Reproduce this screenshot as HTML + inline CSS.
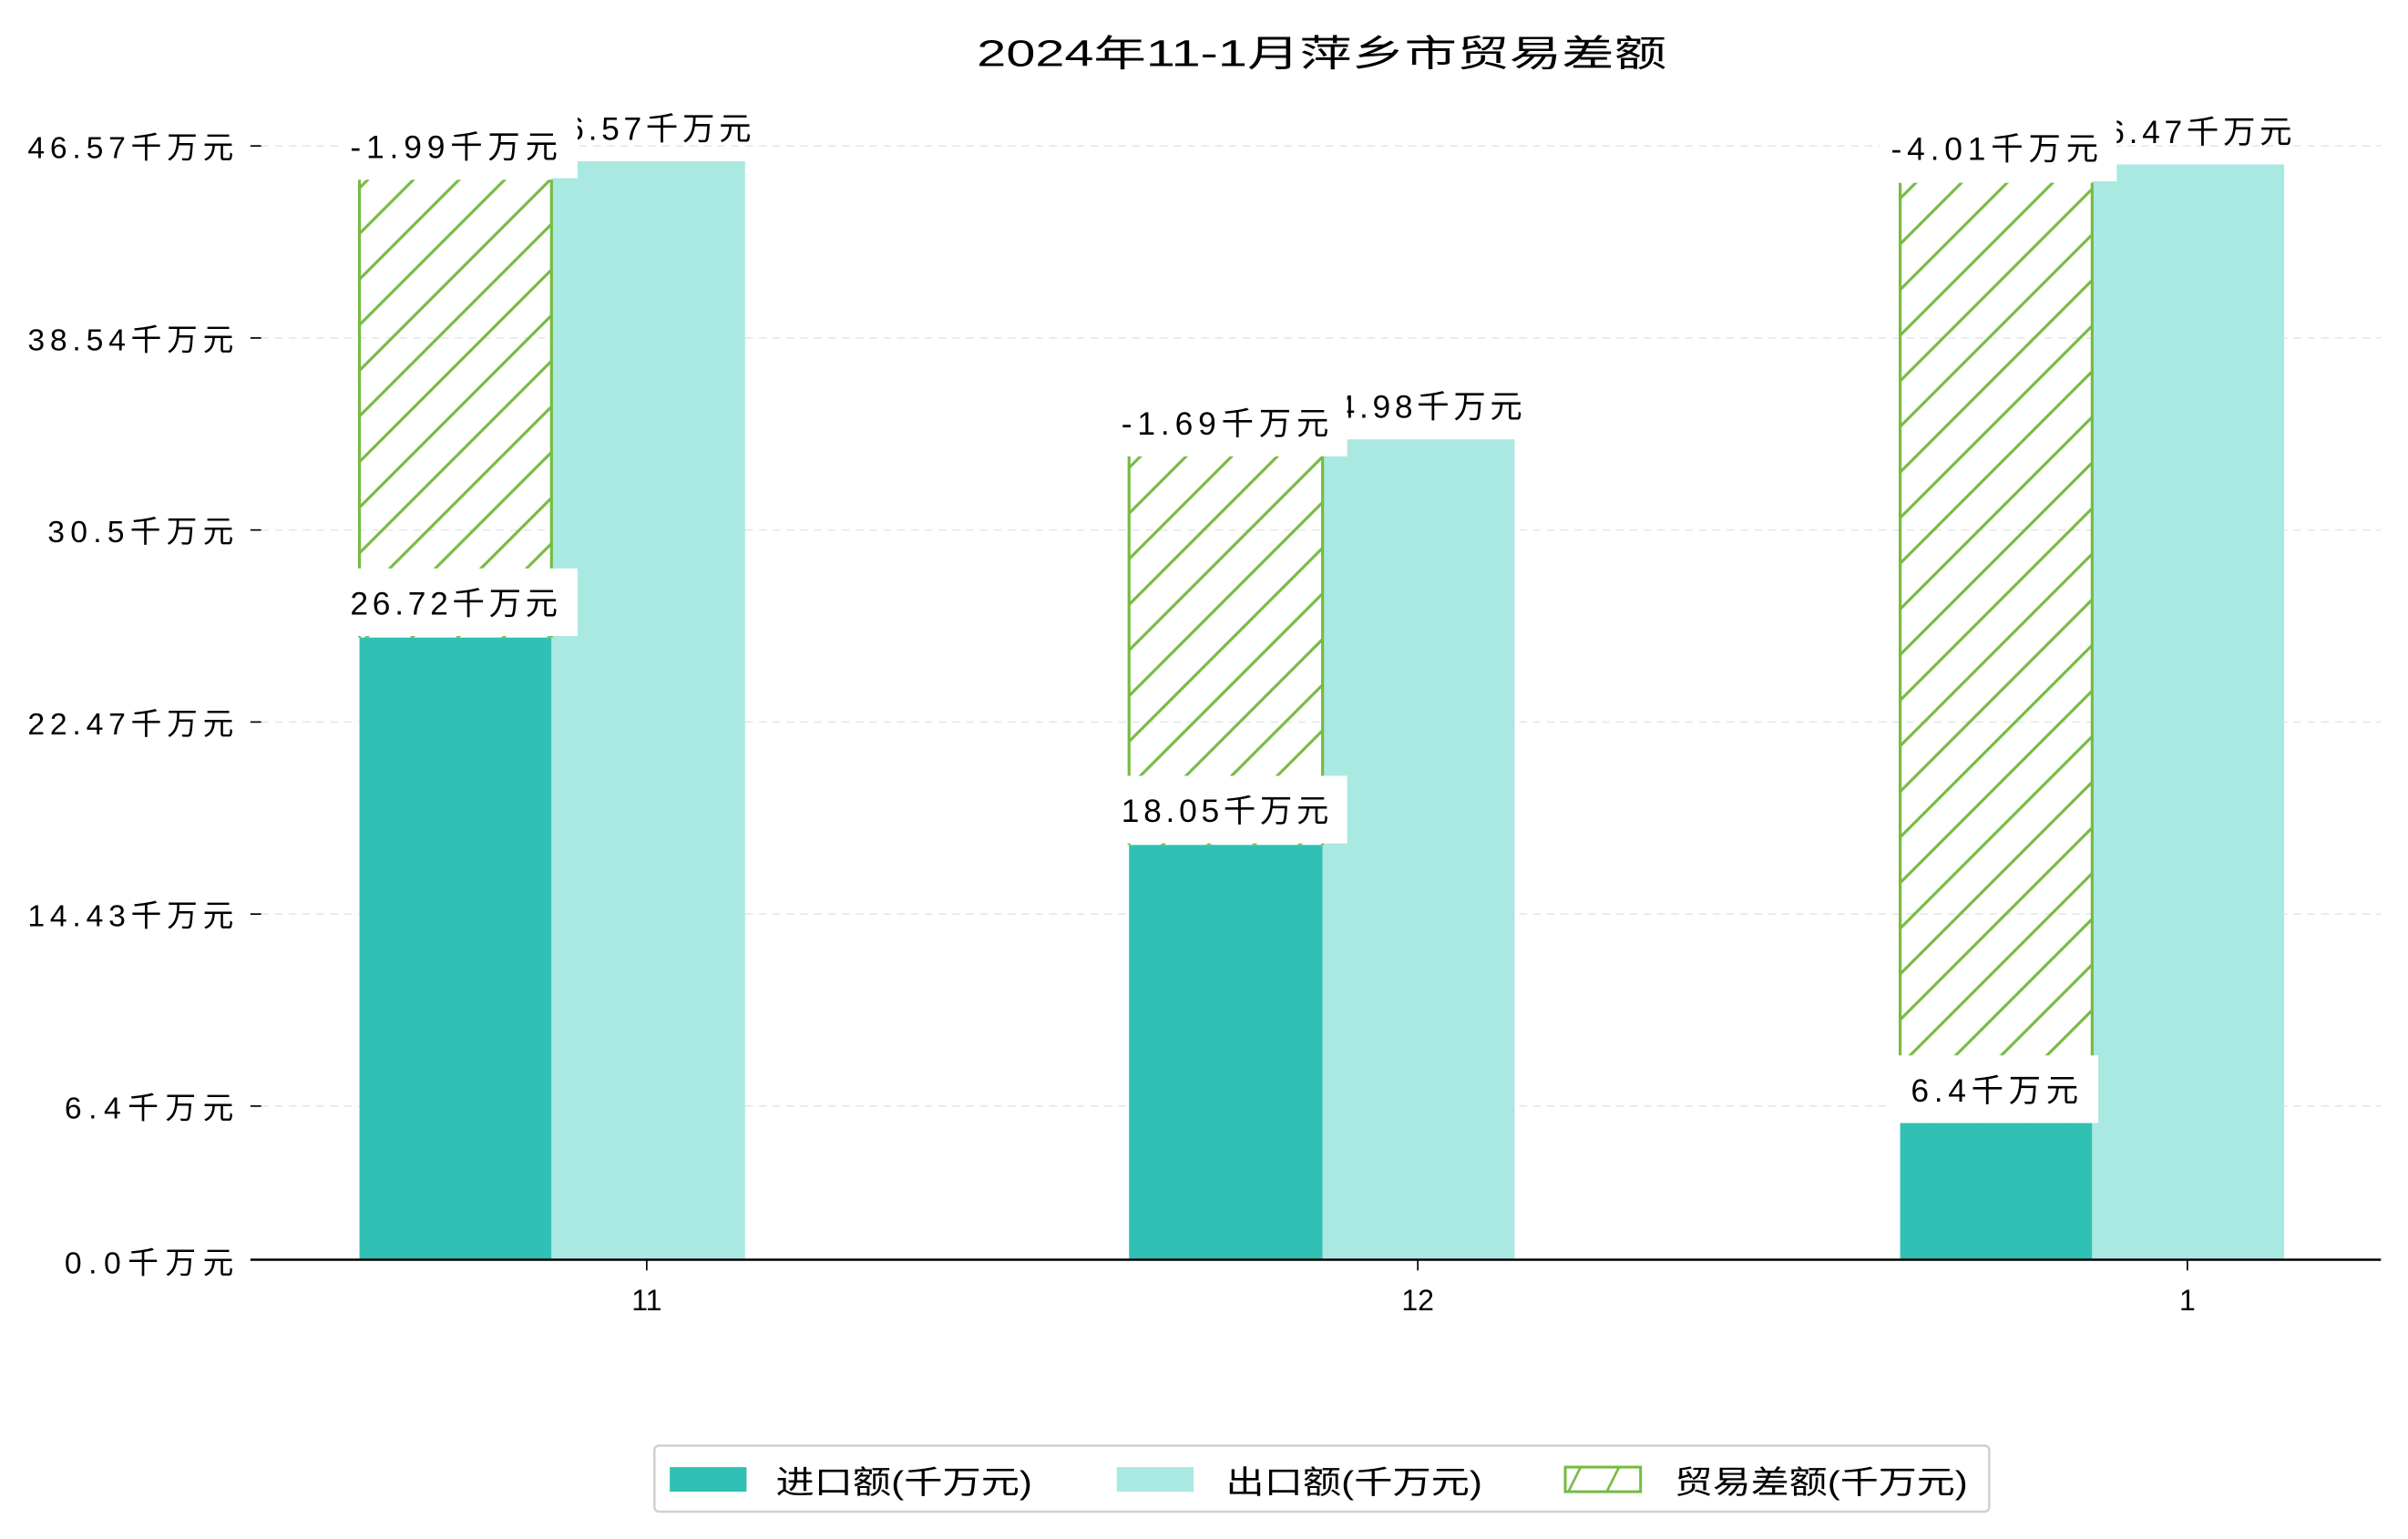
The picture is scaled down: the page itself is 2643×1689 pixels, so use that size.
<!DOCTYPE html>
<html><head><meta charset="utf-8"><style>
html,body{margin:0;padding:0;background:#fff;}
svg{display:block;}
text{font-family:"Liberation Sans","WenQuanYi Zen Hei","Noto Sans CJK SC",sans-serif;fill:#000;}
</style></head><body>
<svg width="2643" height="1689" viewBox="0 0 1567.6 1001.8" xmlns="http://www.w3.org/2000/svg">
<defs>
<pattern id="h" patternUnits="userSpaceOnUse" width="29.7" height="29.7">
<path d="M-5,34.7 L34.7,-5 M-5,5 L5,-5 M24.7,34.7 L34.7,24.7" stroke="#77bb44" stroke-width="1.9"/>
</pattern>
<pattern id="hl" patternUnits="userSpaceOnUse" width="25" height="16" x="1018" y="955">
<path d="M2,18 L12,-2 M27,18 L37,-2 M-23,18 L-13,-2" stroke="#77bb44" stroke-width="1.6"/>
</pattern>
</defs>
<rect width="1567.6" height="1001.8" fill="#fff"/>
<text x="636" y="43" font-size="24" textLength="449" lengthAdjust="spacingAndGlyphs">2024年11-1月萍乡市贸易差额</text>
<g stroke="#e8e8e8" stroke-width="1" stroke-dasharray="5,4">
<line x1="170" x2="1550" y1="95" y2="95"/>
<line x1="170" x2="1550" y1="220" y2="220"/>
<line x1="170" x2="1550" y1="345" y2="345"/>
<line x1="170" x2="1550" y1="470" y2="470"/>
<line x1="170" x2="1550" y1="595" y2="595"/>
<line x1="170" x2="1550" y1="720" y2="720"/>
</g>
<g stroke="#000" stroke-width="1">
<line x1="163" x2="170" y1="95" y2="95"/>
<line x1="163" x2="170" y1="220" y2="220"/>
<line x1="163" x2="170" y1="345" y2="345"/>
<line x1="163" x2="170" y1="470" y2="470"/>
<line x1="163" x2="170" y1="595" y2="595"/>
<line x1="163" x2="170" y1="720" y2="720"/>
<line x1="421" x2="421" y1="820" y2="827"/>
<line x1="923" x2="923" y1="820" y2="827"/>
<line x1="1424" x2="1424" y1="820" y2="827"/>
</g>
<g font-size="20" lengthAdjust="spacingAndGlyphs">
<text x="18" y="103" textLength="134">46.57千万元</text>
<text x="18" y="228" textLength="134">38.54千万元</text>
<text x="31" y="353" textLength="121">30.5千万元</text>
<text x="18" y="478" textLength="134">22.47千万元</text>
<text x="18" y="603" textLength="134">14.43千万元</text>
<text x="42" y="728" textLength="110">6.4千万元</text>
<text x="42" y="829" textLength="110">0.0千万元</text>
</g>
<g font-size="19" text-anchor="middle">
<text x="421" y="853">11</text>
<text x="923" y="853">12</text>
<text x="1424" y="853">1</text>
</g>
<rect x="234" y="415" width="125" height="405" fill="#30c0b4"/>
<rect x="359" y="105" width="126" height="715" fill="#aae8e2"/>
<rect x="735" y="550" width="126" height="270" fill="#30c0b4"/>
<rect x="861" y="286" width="125" height="534" fill="#aae8e2"/>
<rect x="1237" y="731" width="125" height="89" fill="#30c0b4"/>
<rect x="1362" y="107" width="125" height="713" fill="#aae8e2"/>
<rect x="234" y="117" width="125" height="298" fill="url(#h)"/>
<rect x="735" y="297" width="126" height="253" fill="url(#h)"/>
<rect x="1237" y="119" width="125" height="612" fill="url(#h)"/>
<g stroke="#77bb44" stroke-width="1.9">
<line x1="234" x2="234" y1="117" y2="415"/><line x1="359" x2="359" y1="117" y2="415"/>
<line x1="735" x2="735" y1="297" y2="550"/><line x1="861" x2="861" y1="297" y2="550"/>
<line x1="1237" x2="1237" y1="119" y2="731"/><line x1="1362" x2="1362" y1="119" y2="731"/>
</g>
<line x1="163" x2="1550" y1="820" y2="820" stroke="#000" stroke-width="1.5"/>
<g font-size="21" lengthAdjust="spacingAndGlyphs">
<text x="354" y="91" textLength="135">46.57千万元</text>
<text x="856" y="272" textLength="135">34.98千万元</text>
<text x="1357" y="93" textLength="135">46.47千万元</text>
<rect x="222" y="73" width="154" height="43" fill="#fff"/>
<text x="228" y="103" textLength="135">-1.99千万元</text>
<rect x="222" y="370" width="154" height="44" fill="#fff"/>
<text x="228" y="400" textLength="135">26.72千万元</text>
<rect x="723" y="253" width="154" height="44" fill="#fff"/>
<text x="730" y="283" textLength="135">-1.69千万元</text>
<rect x="723" y="505" width="154" height="44" fill="#fff"/>
<text x="730" y="535" textLength="135">18.05千万元</text>
<rect x="1224" y="74" width="154" height="44" fill="#fff"/>
<text x="1231" y="104" textLength="135">-4.01千万元</text>
<rect x="1231" y="687" width="135" height="44" fill="#fff"/>
<text x="1244" y="717" textLength="109">6.4千万元</text>
</g>
<rect x="426" y="941" width="869" height="43" rx="3" fill="#fff" stroke="#d0d0d0" stroke-width="1.5"/>
<rect x="436" y="955" width="50" height="16" fill="#30c0b4"/>
<text x="505" y="972" font-size="21" textLength="167" lengthAdjust="spacingAndGlyphs">进口额(千万元)</text>
<rect x="727" y="955" width="50" height="16" fill="#aae8e2"/>
<text x="798" y="972" font-size="21" textLength="167" lengthAdjust="spacingAndGlyphs">出口额(千万元)</text>
<rect x="1019" y="955" width="49" height="16" fill="url(#hl)" stroke="#77bb44" stroke-width="1.8"/>
<text x="1090" y="972" font-size="21" textLength="191" lengthAdjust="spacingAndGlyphs">贸易差额(千万元)</text>
</svg>
</body></html>
